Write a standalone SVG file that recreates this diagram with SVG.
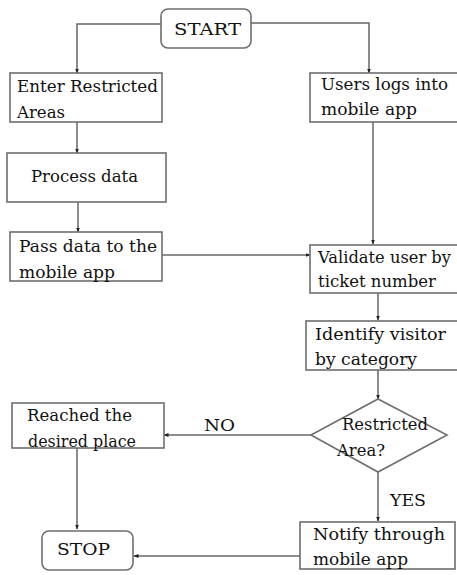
<svg xmlns="http://www.w3.org/2000/svg" width="457" height="575" viewBox="0 0 457 575">
<defs>
<marker id="ah" viewBox="0 0 10 10" refX="9" refY="5" markerWidth="5" markerHeight="5" orient="auto" markerUnits="userSpaceOnUse">
<path d="M0,1 L10,5 L0,9 Z" fill="#222"/>
</marker>
<style>
.box{fill:#fff;stroke:#6e6e6e;stroke-width:1.6}
.ln{fill:none;stroke:#666;stroke-width:1.5;marker-end:url(#ah)}
text{font-family:"DejaVu Serif","Liberation Serif",serif;font-size:17.5px;fill:#111}
.sm{font-size:16.5px}
</style>
</defs>
<rect width="457" height="575" fill="#fff"/>
<g id="connectors">
<path class="ln" d="M161,24 H77 V73"/>
<path class="ln" d="M251,23 H369 V73"/>
<path class="ln" d="M77,122 V153"/>
<path class="ln" d="M78,202 V232"/>
<path class="ln" d="M162,255 H310"/>
<path class="ln" d="M373,122 V244"/>
<path class="ln" d="M378,293 V320"/>
<path class="ln" d="M378,370 V399"/>
<path class="ln" d="M311,435 H164"/>
<path class="ln" d="M378,472 V521"/>
<path class="ln" d="M77,448 V529"/>
<path class="ln" d="M300,556 H134"/>
</g>
<g id="start">
<rect class="box" x="161" y="9" width="90" height="39" rx="7"/>
<text x="174" y="35" textLength="67" lengthAdjust="spacingAndGlyphs">START</text>
</g>
<g id="enter">
<rect class="box" x="10" y="73" width="152" height="49"/>
<text x="17" y="92" textLength="141" lengthAdjust="spacingAndGlyphs">Enter Restricted</text>
<text x="17" y="118" textLength="48" lengthAdjust="spacingAndGlyphs">Areas</text>
</g>
<g id="users">
<rect class="box" x="310" y="73" width="150" height="49"/>
<text x="321" y="90" textLength="127" lengthAdjust="spacingAndGlyphs">Users logs into</text>
<text x="321" y="115" textLength="96" lengthAdjust="spacingAndGlyphs">mobile app</text>
</g>
<g id="process">
<rect class="box" x="7" y="153" width="159" height="49"/>
<text x="31" y="182" textLength="107" lengthAdjust="spacingAndGlyphs">Process data</text>
</g>
<g id="pass">
<rect class="box" x="10" y="232" width="152" height="49"/>
<text x="19" y="252" textLength="138" lengthAdjust="spacingAndGlyphs">Pass data to the</text>
<text x="19" y="278" textLength="96" lengthAdjust="spacingAndGlyphs">mobile app</text>
</g>
<g id="validate">
<rect class="box" x="310" y="245" width="150" height="48"/>
<text class="sm" x="318" y="263" textLength="133" lengthAdjust="spacingAndGlyphs">Validate user by</text>
<text x="318" y="287" textLength="118" lengthAdjust="spacingAndGlyphs">ticket number</text>
</g>
<g id="identify">
<rect class="box" x="306" y="321" width="154" height="49"/>
<text x="315" y="340" textLength="131" lengthAdjust="spacingAndGlyphs">Identify visitor</text>
<text x="315" y="365" textLength="102" lengthAdjust="spacingAndGlyphs">by category</text>
</g>
<g id="decision">
<polygon class="box" points="378,399 447,435 378,472 311,435"/>
<text x="342" y="430" textLength="86" lengthAdjust="spacingAndGlyphs">Restricted</text>
<text x="337" y="456" textLength="48" lengthAdjust="spacingAndGlyphs">Area?</text>
</g>
<g id="reached">
<rect class="box" x="12" y="403" width="152" height="45"/>
<text x="27" y="421" textLength="105" lengthAdjust="spacingAndGlyphs">Reached the</text>
<text x="28" y="447" textLength="108" lengthAdjust="spacingAndGlyphs">desired place</text>
</g>
<g id="notify">
<rect class="box" x="300" y="522" width="155" height="47"/>
<text x="313" y="540" textLength="132" lengthAdjust="spacingAndGlyphs">Notify through</text>
<text x="313" y="565" textLength="95" lengthAdjust="spacingAndGlyphs">mobile app</text>
</g>
<g id="stop">
<rect class="box" x="42" y="531" width="91" height="39" rx="7"/>
<text x="57" y="555" textLength="53" lengthAdjust="spacingAndGlyphs">STOP</text>
</g>
<g id="labels">
<text x="204" y="431" textLength="31" lengthAdjust="spacingAndGlyphs">NO</text>
<text x="390" y="506" textLength="36" lengthAdjust="spacingAndGlyphs">YES</text>
</g>
</svg>
